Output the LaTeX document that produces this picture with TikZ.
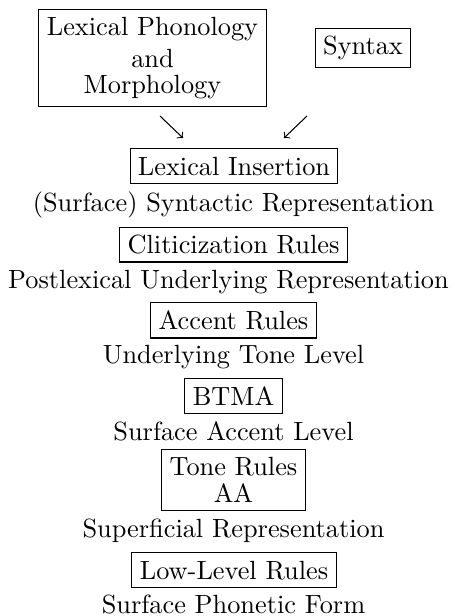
\documentclass[tikz,border=0pt]{standalone}
\usetikzlibrary{arrows.meta}
\begin{document}
\begin{tikzpicture}[x=0.38pt,y=-0.38pt,
  boxed/.style={draw,line width=0.4pt,inner sep=3pt,anchor=base,font=\fontsize{10}{12}\selectfont},
  plain/.style={inner sep=0pt,anchor=base,font=\fontsize{10}{12}\selectfont},
  arr/.style={line width=0.4pt,-to}]
\useasboundingbox (0,0) rectangle (454,616);
\node[boxed] (lexphon) at (152.5,93.5) {\shortstack{Lexical Phonology\\and\\Morphology}};
\node[boxed] (syntax) at (363,54.5) {Syntax};
\coordinate (a1s) at (160,116);
\coordinate (a1e) at (183,138);
\coordinate (a2s) at (307,116);
\coordinate (a2e) at (284,138);
\draw[arr] (a1s) -- (a1e);
\draw[arr] (a2s) -- (a2e);
\node[boxed] (lexins) at (234,175) {Lexical Insertion};
\node[plain] (ssr) at (233.5,211) {(Surface) Syntactic Representation};
\node[boxed] (clit) at (233.5,253.5) {Cliticization Rules};
\node[plain] (pur) at (228.5,288) {Postlexical Underlying Representation};
\node[boxed] (accent) at (233.5,329.5) {Accent Rules};
\node[plain] (utl) at (233.5,363.5) {Underlying Tone Level};
\node[boxed] (btma) at (233.5,405.5) {BTMA};
\node[plain] (sal) at (233.5,440.5) {Surface Accent Level};
\node[boxed] (tone) at (233.5,502.5) {\shortstack{Tone Rules\\AA}};
\node[plain] (sup) at (233.5,537) {Superficial Representation};
\node[boxed] (low) at (234,579) {Low-Level Rules};
\node[plain] (spf) at (233.5,613) {Surface Phonetic Form};
\end{tikzpicture}
\end{document}
